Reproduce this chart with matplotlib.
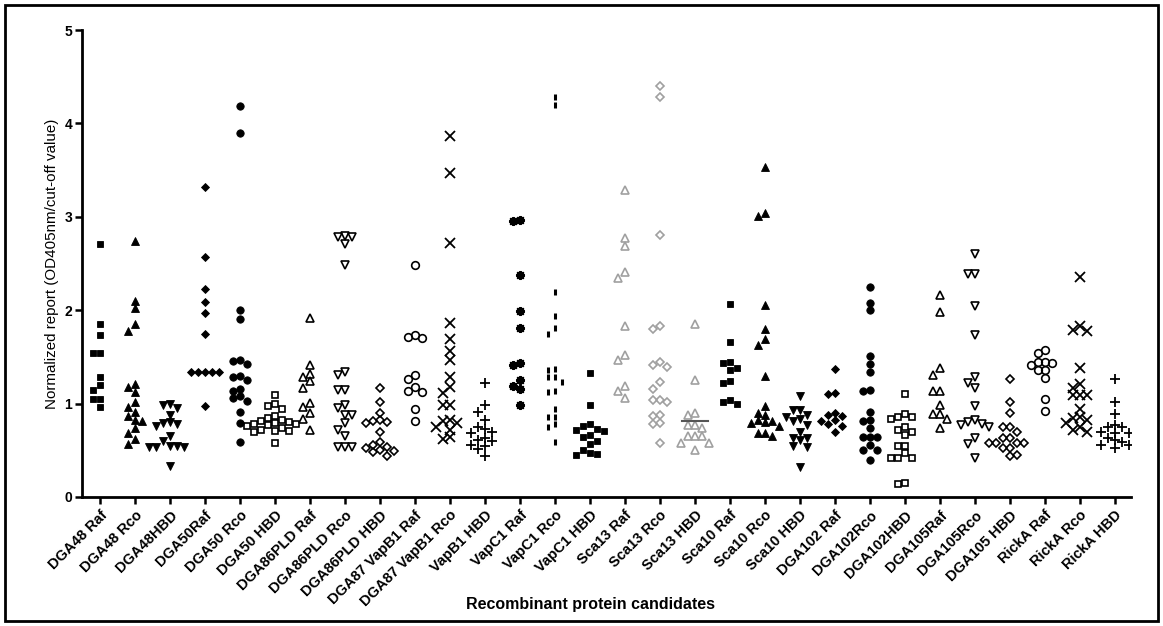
import numpy as np
import matplotlib
matplotlib.use("Agg")
import matplotlib.pyplot as plt
from matplotlib.patches import Rectangle

plt.rcParams['font.family'] = ['Liberation Sans', 'DejaVu Sans']

# categorias del eje x
categorias = ["DGA48 Raf", "DGA48 Rco", "DGA48HBD", "DGA50Raf", "DGA50 Rco", "DGA50 HBD",
              "DGA86PLD Raf", "DGA86PLD Rco", "DGA86PLD HBD", "DGA87 VapB1 Raf",
              "DGA87 VapB1 Rco", "VapB1 HBD", "VapC1 Raf", "VapC1 Rco", "VapC1 HBD",
              "Sca13 Raf", "Sca13 Rco", "Sca13 HBD", "Sca10 Raf", "Sca10 Rco", "Sca10 HBD",
              "DGA102 Raf", "DGA102Rco", "DGA102HBD", "DGA105Raf", "DGA105Rco", "DGA105 HBD",
              "RickA Raf", "RickA Rco", "RickA HBD"]

# valores (OD405nm / cut-off)
dga48_raf = [2.71, 1.85, 1.73, 1.54, 1.54, 1.28, 1.2, 1.15, 1.05, 1.05, 0.96]
dga48_rco = [2.74, 2.10, 2.02, 1.85, 1.78, 1.21, 1.18, 1.12, 1.02, 0.96, 0.91, 0.87,
             0.82, 0.81, 0.74, 0.68, 0.62, 0.57]
dga48_hbd = [1.0, 0.98, 0.95, 0.88, 0.8, 0.79, 0.78, 0.76, 0.65, 0.6, 0.55, 0.55, 0.54,
             0.54, 0.53, 0.33]
dga50_raf = [3.32, 2.57, 2.23, 2.09, 1.97, 1.75, 1.34, 1.34, 1.34, 1.34, 1.34, 0.97]
dga50_rco = [4.19, 3.90, 2.0, 1.91, 1.47, 1.46, 1.42, 1.30, 1.28, 1.25, 1.16, 1.14,
             1.08, 1.06, 1.03, 0.91, 0.79, 0.59]
dga50_hbd = [1.09, 1.0, 0.97, 0.94, 0.87, 0.85, 0.82, 0.81, 0.80, 0.79, 0.78, 0.78,
             0.77, 0.76, 0.74, 0.72, 0.71, 0.71, 0.70, 0.58]
dga86_raf = [1.92, 1.41, 1.32, 1.29, 1.24, 1.17, 1.01, 0.96, 0.90, 0.84, 0.72]
dga86_rco = [2.79, 2.78, 2.78, 2.71, 2.48, 1.34, 1.31, 1.15, 1.15, 0.99, 0.95, 0.88,
             0.88, 0.79, 0.72, 0.65, 0.54, 0.54, 0.54]
dga86_hbd = [1.17, 1.02, 0.9, 0.82, 0.81, 0.8, 0.79, 0.70, 0.59, 0.56, 0.54, 0.52,
             0.5, 0.49, 0.48, 0.44]
dga87_raf = [2.48, 1.73, 1.71, 1.70, 1.31, 1.26, 1.18, 1.14, 1.12, 0.94, 0.81]
dga87_rco = [3.87, 3.47, 2.72, 1.86, 1.69, 1.56, 1.47, 1.29, 1.18, 1.11, 0.98, 0.98,
             0.82, 0.81, 0.79, 0.75, 0.72, 0.64, 0.62]
vapb1_hbd = [1.22, 0.98, 0.91, 0.82, 0.75, 0.73, 0.70, 0.68, 0.63, 0.61, 0.60, 0.56,
             0.55, 0.51, 0.44]
vapc1_raf = [2.97, 2.95, 2.38, 1.99, 1.81, 1.44, 1.41, 1.25, 1.19, 1.16, 0.99]
vapc1_rco = [4.28, 4.20, 2.19, 1.94, 1.81, 1.75, 1.37, 1.36, 1.28, 1.28, 1.23, 1.14,
             1.12, 0.94, 0.86, 0.86, 0.78, 0.75, 0.59]
vapc1_hbd = [1.33, 0.985, 0.78, 0.76, 0.73, 0.72, 0.71, 0.66, 0.64, 0.60, 0.57, 0.5,
             0.47, 0.46, 0.45]
sca13_raf = [3.29, 2.77, 2.69, 2.41, 2.35, 1.83, 1.52, 1.47, 1.19, 1.13, 1.06]
sca13_rco = [4.40, 4.28, 2.80, 1.83, 1.80, 1.45, 1.41, 1.39, 1.23, 1.16, 1.04, 1.04,
             1.02, 0.88, 0.87, 0.79, 0.78, 0.58]
sca13_hbd = [1.85, 1.25, 0.90, 0.88, 0.77, 0.77, 0.74, 0.65, 0.65, 0.65, 0.58, 0.58, 0.50]
sca13_hbd_linea = 0.81
sca10_raf = [2.07, 1.66, 1.45, 1.43, 1.38, 1.36, 1.24, 1.22, 1.04, 1.02, 1.0]
sca10_rco = [3.53, 3.04, 3.01, 2.06, 1.80, 1.69, 1.63, 1.30, 0.97, 0.90, 0.88, 0.82,
             0.81, 0.80, 0.79, 0.76, 0.68, 0.68, 0.65]
sca10_hbd = [1.08, 0.93, 0.93, 0.88, 0.86, 0.84, 0.81, 0.77, 0.70, 0.63, 0.63, 0.61,
             0.55, 0.54, 0.325]
dga102_raf = [1.37, 1.11, 1.10, 0.90, 0.88, 0.87, 0.82, 0.81, 0.78, 0.76, 0.70]
dga102_rco = [2.25, 2.08, 2.0, 1.51, 1.42, 1.34, 1.15, 1.14, 0.91, 0.82, 0.81, 0.74,
              0.64, 0.64, 0.64, 0.56, 0.50, 0.50, 0.40]
dga102_hbd = [1.10, 0.89, 0.86, 0.86, 0.84, 0.75, 0.72, 0.70, 0.66, 0.55, 0.55, 0.47,
              0.42, 0.42, 0.42, 0.15, 0.135]
dga105_raf = [2.16, 1.98, 1.38, 1.31, 1.14, 1.13, 0.99, 0.89, 0.89, 0.84, 0.74]
dga105_rco = [2.60, 2.39, 2.39, 2.04, 1.73, 1.28, 1.22, 1.17, 0.97, 0.82, 0.80, 0.78,
              0.77, 0.75, 0.63, 0.57, 0.42]
dga105_hbd = [1.26, 1.02, 0.90, 0.75, 0.75, 0.70, 0.63, 0.63, 0.58, 0.58, 0.58, 0.58,
              0.52, 0.52, 0.45, 0.44]
ricka_raf = [1.57, 1.54, 1.45, 1.45, 1.44, 1.41, 1.36, 1.36, 1.27, 1.05, 0.92]
ricka_rco = [2.36, 1.83, 1.79, 1.78, 1.38, 1.21, 1.17, 1.09, 1.09, 1.09, 0.94, 0.86,
             0.85, 0.82, 0.79, 0.75, 0.72, 0.70]
ricka_hbd = [1.26, 1.02, 0.89, 0.77, 0.75, 0.75, 0.70, 0.69, 0.68, 0.63, 0.61, 0.59,
             0.56, 0.56, 0.52]

valores = [dga48_raf, dga48_rco, dga48_hbd, dga50_raf, dga50_rco, dga50_hbd,
           dga86_raf, dga86_rco, dga86_hbd, dga87_raf, dga87_rco, vapb1_hbd,
           vapc1_raf, vapc1_rco, vapc1_hbd, sca13_raf, sca13_rco, sca13_hbd,
           sca10_raf, sca10_rco, sca10_hbd, dga102_raf, dga102_rco, dga102_hbd,
           dga105_raf, dga105_rco, dga105_hbd, ricka_raf, ricka_rco, ricka_hbd]

# estilo de marcador por grupo: (marcador, relleno, color, tamano)
asterisco = (8, 2, 0)
N, G = "black", "#a0a0a0"
estilos = [("s", True, N, 5), ("^", True, N, 5.5), ("v", True, N, 5.5), ("D", True, N, 4),
           ("o", True, N, 5.3), ("s", False, N, 5), ("^", False, N, 5.7), ("v", False, N, 5.7),
           ("D", False, N, 4.5), ("o", False, N, 5.5), ("x", False, N, 6.5), ("+", False, N, 7.5),
           (asterisco, False, N, 6.5), ("|", False, N, 4), ("s", True, N, 5),
           ("^", False, G, 5.7), ("D", False, G, 4.5), ("^", False, G, 5.7),
           ("s", True, N, 5), ("^", True, N, 5.5), ("v", True, N, 5.5), ("D", True, N, 4),
           ("o", True, N, 5.3), ("s", False, N, 5), ("^", False, N, 5.7), ("v", False, N, 5.7),
           ("D", False, N, 4.5), ("o", False, N, 5.5), ("x", False, N, 6.5), ("+", False, N, 7.5)]

PX_X = 35.0   # pixeles por categoria
PX_Y = 93.4   # pixeles por unidad en y
PASO = 7.0    # separacion entre puntos en pixeles


def enjambre(vals):
    # colocacion tipo "scatter dot plot" de GraphPad: sin solapes
    puestos = []
    offs = []
    for v in vals:
        k = 0
        while True:
            cand = ((k + 1) // 2) * (-1 if k % 2 else 1) * PASO
            ok = True
            for (px, py) in puestos:
                if abs(px - cand) < PASO * 0.95 and abs(py - v * PX_Y) < PASO * 0.95:
                    ok = False
                    break
            if ok:
                break
            k += 1
        puestos.append((cand, v * PX_Y))
        offs.append(cand / PX_X)
    return np.array(offs)


fig = plt.figure(figsize=(11.63, 6.26), dpi=100)
ax = fig.add_axes([82 / 1163, 1 - 497 / 626, (1131 - 82) / 1163, (497 - 30) / 626])

for i, (vals, est) in enumerate(zip(valores, estilos)):
    mk, relleno, col, ms = est
    v = np.array(vals)
    x = i + enjambre(v)
    mew = 1.2
    if mk == "x" or mk == "+":
        mew = 1.3
    if mk == "|":
        mew = 2.2
    if mk == asterisco:
        mew = 1.4
    ax.plot(x, v, linestyle="none", marker=mk, markersize=ms,
            markerfacecolor=col if relleno else "none", markeredgecolor=col,
            markeredgewidth=mew if not relleno else 0.6, color=col)

# linea corta en Sca13 HBD
ax.plot([17 - 0.36, 17 + 0.36], [sca13_hbd_linea, sca13_hbd_linea], color="#555555", lw=1.5)

ax.set_xlim(-0.514, 29.46)
ax.set_ylim(0, 5)
ax.set_yticks(range(6))
ax.set_xticks(range(len(categorias)))
ax.set_xticklabels(categorias, rotation=45, ha="right", rotation_mode="anchor",
                   fontsize=10.5, fontweight="bold")
for lab in ax.get_yticklabels():
    lab.set_fontweight("bold")
    lab.set_fontsize(10)
ax.spines["top"].set_visible(False)
ax.spines["right"].set_visible(False)
ax.spines["left"].set_linewidth(2)
ax.spines["bottom"].set_linewidth(2)
ax.tick_params(axis="both", direction="out", length=5, width=1.8, pad=2)
ax.tick_params(axis="x", pad=3)
ax.set_ylabel("Normalized report (OD405nm/cut-off value)", fontsize=10.9, labelpad=4)
fig.text(590 / 1163, 1 - 605 / 626, "Recombinant protein candidates", ha="center", va="center",
         fontsize=11.5, fontweight="bold")

# marco exterior
fig.patches.append(Rectangle((5 / 1163, 5 / 626), 1153 / 1163, 616 / 626, transform=fig.transFigure,
                             fill=False, edgecolor="black", linewidth=2))

fig.savefig("out.png", dpi=100)
